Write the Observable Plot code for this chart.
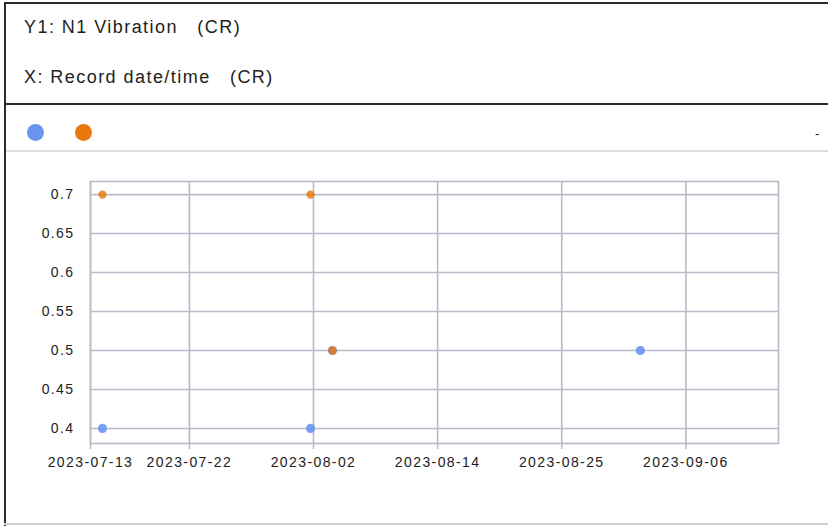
<!DOCTYPE html>
<html>
<head>
<meta charset="utf-8">
<script src="https://cdn.jsdelivr.net/npm/d3@7"></script>
<script src="https://cdn.jsdelivr.net/npm/@observablehq/plot@0.6"></script>
<style>
  html, body { margin: 0; padding: 0; background: #fff; }
  #page { position: relative; width: 828px; height: 526px; overflow: hidden; font-family: "Liberation Sans", Arial, sans-serif; color: #222; }
  .hdr { position: absolute; left: 24px; font-size: 18px; line-height: 18px; letter-spacing: 1.45px; white-space: pre; }
  .line { position: absolute; }
  .leg { position: absolute; width: 17px; height: 17px; border-radius: 50%; }
  #chart { position: absolute; left: 0; top: 152px; }
  #chart svg text { letter-spacing: 1.4px; }
</style>
</head>
<body>
<div id="page">
  <div class="hdr" id="t1" style="top:17.8px"></div>
  <div class="hdr" id="t2" style="top:68.1px"></div>
  <div id="legend"></div>
  <div style="position:absolute;left:815px;top:126px;font-size:13px;">-</div>
  <div id="chart"></div>
  <div class="line" style="left:4px;top:2px;width:824px;height:2px;background:#2b2b2b"></div>
  <div class="line" style="left:4px;top:2px;width:2px;height:524px;background:#2b2b2b"></div>
  <div class="line" style="left:4px;top:103px;width:824px;height:2px;background:#2b2b2b"></div>
  <div class="line" style="left:6px;top:150px;width:822px;height:2px;background:#dedede"></div>
  <div class="line" style="left:4px;top:523px;width:824px;height:2px;background:#cfcfcf"></div>
</div>
<script>
// ---- data ----
const yTitle = "Y1: N1 Vibration   (CR)";
const xTitle = "X: Record date/time   (CR)";
const seriesNames = ["blue", "orange"];
const seriesColors = ["#6b94f0", "#e8780c"];

const blueDates = ["2023-07-14T05:00Z", "2023-08-02T12:00Z", "2023-08-04T12:40Z", "2023-09-02T01:40Z"];
const blueValues = [0.4, 0.4, 0.5, 0.5];
const orangeDates = ["2023-07-14T05:00Z", "2023-08-02T12:00Z", "2023-08-04T12:40Z"];
const orangeValues = [0.7, 0.7, 0.5];

const xDomainDates = ["2023-07-13T02:24Z", "2023-09-14T21:00Z"];
const xTickDates = ["2023-07-13T02:24Z", "2023-07-22T06:30Z", "2023-08-02T18:30Z", "2023-08-14T06:40Z", "2023-08-25T18:45Z", "2023-09-06T07:00Z"];
const xTickLabels = ["2023-07-13", "2023-07-22", "2023-08-02", "2023-08-14", "2023-08-25", "2023-09-06"];
const yDomain = [0.3807, 0.7168];
const yTicks = [0.4, 0.45, 0.5, 0.55, 0.6, 0.65, 0.7];
const yTickLabels = ["0.4", "0.45", "0.5", "0.55", "0.6", "0.65", "0.7"];

// ---- build ----
document.getElementById("t1").textContent = yTitle;
document.getElementById("t2").textContent = xTitle;
const legend = document.getElementById("legend");
seriesColors.forEach((c, i) => {
  const s = document.createElement("div");
  s.className = "leg";
  s.title = seriesNames[i];
  s.style.background = c;
  s.style.left = (26.5 + i * 48) + "px";
  s.style.top = "123.5px";
  legend.appendChild(s);
});

const parse = s => new Date(s);
const xTicks = xTickDates.map(parse);
const xFmt = d => xTickLabels[xTicks.findIndex(t => +t === +d)];
const yFmt = d => yTickLabels[yTicks.indexOf(d)];
const blue = blueDates.map((d, i) => ({date: parse(d), value: blueValues[i]}));
const orange = orangeDates.map((d, i) => ({date: parse(d), value: orangeValues[i]}));
const grid = "#b9bbc8";

const chart = Plot.plot({
  width: 828,
  height: 374,
  marginLeft: 90,
  marginRight: 50,
  marginTop: 29,
  marginBottom: 83,
  style: {background: "transparent", fontFamily: "'Liberation Sans', Arial, sans-serif", fontSize: "14px", color: "#222", overflow: "visible"},
  x: {type: "utc", domain: xDomainDates.map(parse), label: null},
  y: {domain: yDomain, label: null},
  marks: [
    Plot.gridX(xTicks, {stroke: grid, strokeOpacity: 1, strokeWidth: 1.6}),
    Plot.gridY(yTicks, {stroke: grid, strokeOpacity: 1, strokeWidth: 1.6}),
    Plot.frame({stroke: grid, strokeWidth: 1.6}),
    Plot.axisX({ticks: xTicks, tickFormat: xFmt, tickSize: 6, tickPadding: 8, stroke: grid, strokeWidth: 1.6, fill: "#222"}),
    Plot.axisY({ticks: yTicks, tickFormat: yFmt, tickSize: 0, tickPadding: 16, fill: "#222"}),
    Plot.dot(blue, {x: "date", y: "value", r: 4.6, fill: seriesColors[0], fillOpacity: 0.9, stroke: null}),
    Plot.dot(orange, {x: "date", y: "value", r: 4.2, fill: seriesColors[1], fillOpacity: 0.82, stroke: null})
  ]
});
document.getElementById("chart").appendChild(chart);
</script>
</body>
</html>
